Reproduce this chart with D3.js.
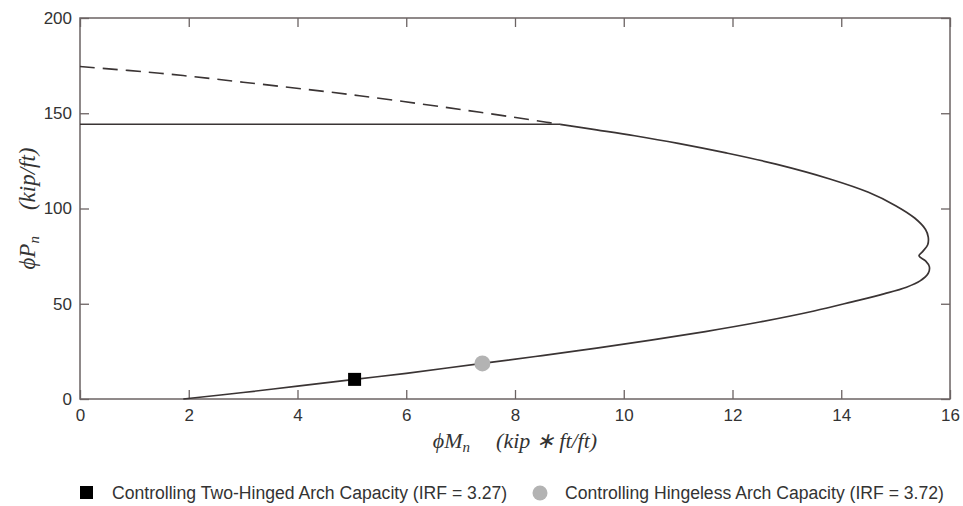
<!DOCTYPE html>
<html>
<head>
<meta charset="utf-8">
<script src="https://cdn.jsdelivr.net/npm/d3@7"></script>
<style>
  html, body { margin: 0; padding: 0; background: #ffffff; }
  svg { display: block; }
</style>
</head>
<body>
<svg id="chart" width="963" height="506"></svg>
<script>
// ---- data ----
const xTicks = [0, 2, 4, 6, 8, 10, 12, 14, 16];
const yTicks = [0, 50, 100, 150, 200];

// interaction diagram: lower branch -> nose -> upper branch up to the cap
const curveM = [1.9, 3.0, 4.0, 5.05, 6.0, 7.4, 8.5, 9.5, 10.5, 11.5, 12.5, 13.5, 14.2, 14.8, 15.2, 15.45, 15.6, 15.62, 15.55, 15.43, 15.5, 15.59, 15.6, 15.55, 15.35, 15.0, 14.5, 13.79, 12.8, 11.86, 11.0, 10.2, 9.5, 8.83];
const curveP = [0.0, 3.4, 6.75, 10.3, 13.5, 18.7, 22.8, 26.7, 30.9, 35.4, 40.4, 46.2, 51.0, 55.3, 58.7, 62.0, 66.0, 69.5, 72.5, 75.1, 77.5, 81.0, 85.0, 89.0, 95.0, 101.5, 108.5, 115.5, 123.3, 129.3, 134.2, 138.2, 141.3, 144.2];

// cap (horizontal limit)
const capM = [0, 8.83];
const capP = [144.2, 144.2];

// dashed continuation above the cap
const dashM = [0, 1.47, 3.0, 5.14, 7.36, 8.58, 8.83];
const dashP = [174.5, 171.0, 166.3, 159.2, 150.5, 145.3, 144.2];

// controlling capacities
const twoHingedM = 5.05, twoHingedP = 10.3;
const hingelessM = 7.4,  hingelessP = 18.7;

const legendLabels = [
  "Controlling Two-Hinged Arch Capacity (IRF = 3.27)",
  "Controlling Hingeless Arch Capacity (IRF = 3.72)"
];

// ---- layout ----
const svg = d3.select("#chart");
const L = 80, R = 950, T = 18, B = 399;
const x = d3.scaleLinear().domain([0, 16]).range([L, R]);
const y = d3.scaleLinear().domain([0, 200]).range([B, T]);

const axisColor = "#6b6363";
const textColor = "#333333";
const tickFont = "'Liberation Sans', Arial, sans-serif";

// box
svg.append("rect")
  .attr("x", L).attr("y", T).attr("width", R - L).attr("height", B - T)
  .attr("fill", "none").attr("stroke", axisColor).attr("stroke-width", 1.5);

const tickLen = 9;
function styleAxis(g) {
  g.select(".domain").remove();
  g.selectAll(".tick line").attr("stroke", axisColor).attr("stroke-width", 1.3);
  g.selectAll(".tick text")
    .attr("fill", textColor)
    .style("font-family", tickFont)
    .style("font-size", "17px");
}
svg.append("g").attr("transform", `translate(0,${B})`)
  .call(d3.axisBottom(x).tickValues(xTicks).tickFormat(d3.format("d")).tickSizeInner(-tickLen).tickSizeOuter(0).tickPadding(10))
  .call(styleAxis);
svg.append("g").attr("transform", `translate(0,${T})`)
  .call(d3.axisTop(x).tickValues(xTicks).tickFormat("").tickSizeInner(-tickLen).tickSizeOuter(0))
  .call(styleAxis);
svg.append("g").attr("transform", `translate(${L},0)`)
  .call(d3.axisLeft(y).tickValues(yTicks).tickFormat(d3.format("d")).tickSizeInner(-tickLen).tickSizeOuter(0).tickPadding(8))
  .call(styleAxis);
svg.append("g").attr("transform", `translate(${R},0)`)
  .call(d3.axisRight(y).tickValues(yTicks).tickFormat("").tickSizeInner(-tickLen).tickSizeOuter(0))
  .call(styleAxis);

// ---- lines ----
const lineColor = "#3a3434";
const curveLine = d3.line().x(d => x(d[0])).y(d => y(d[1])).curve(d3.curveCatmullRom.alpha(0.5));
const straight = d3.line().x(d => x(d[0])).y(d => y(d[1]));

svg.append("path")
  .datum(dashM.map((m, i) => [m, dashP[i]]))
  .attr("d", curveLine)
  .attr("fill", "none").attr("stroke", lineColor).attr("stroke-width", 1.6)
  .attr("stroke-dasharray", "15,8");

svg.append("path")
  .datum(capM.map((m, i) => [m, capP[i]]))
  .attr("d", straight)
  .attr("fill", "none").attr("stroke", lineColor).attr("stroke-width", 1.6);

svg.append("path")
  .datum(curveM.map((m, i) => [m, curveP[i]]))
  .attr("d", curveLine)
  .attr("fill", "none").attr("stroke", lineColor).attr("stroke-width", 1.7);

// ---- markers ----
const sq = 13;
svg.append("rect")
  .attr("x", x(twoHingedM) - sq / 2).attr("y", y(twoHingedP) - sq / 2)
  .attr("width", sq).attr("height", sq).attr("fill", "#000000");
svg.append("circle")
  .attr("cx", x(hingelessM)).attr("cy", y(hingelessP)).attr("r", 8)
  .attr("fill", "#b3b3b3");

// ---- axis labels (math italic) ----
const mathFont = "'Liberation Serif', 'Times New Roman', serif";
const xl = svg.append("text")
  .attr("x", (L + R) / 2).attr("y", 448)
  .attr("text-anchor", "middle")
  .attr("fill", textColor)
  .style("font-family", mathFont).style("font-style", "italic").style("font-size", "22px");
xl.append("tspan").text("ϕM");
xl.append("tspan").attr("baseline-shift", "-25%").style("font-size", "15px").text("n");
xl.append("tspan").attr("dx", 26).text("(kip ∗ ft/ft)");

const yl = svg.append("text")
  .attr("transform", `translate(35,${(T + B) / 2}) rotate(-90)`)
  .attr("text-anchor", "middle")
  .attr("fill", textColor)
  .style("font-family", mathFont).style("font-style", "italic").style("font-size", "23px");
yl.append("tspan").text("ϕP");
yl.append("tspan").attr("baseline-shift", "-25%").style("font-size", "15px").text("n");
yl.append("tspan").attr("dx", 26).text("(kip/ft)");

// ---- legend ----
const legY = 493;
const legFont = "'Liberation Sans', Arial, sans-serif";
svg.append("rect").attr("x", 80).attr("y", legY - 7).attr("width", 13).attr("height", 13).attr("fill", "#000000");
svg.append("text").attr("x", 112).attr("y", legY + 6)
  .attr("fill", textColor).style("font-family", legFont).style("font-size", "17.6px")
  .text(legendLabels[0]);
svg.append("circle").attr("cx", 540).attr("cy", legY).attr("r", 7.5).attr("fill", "#b3b3b3");
svg.append("text").attr("x", 565).attr("y", legY + 6)
  .attr("fill", textColor).style("font-family", legFont).style("font-size", "17.6px")
  .text(legendLabels[1]);
</script>
</body>
</html>
